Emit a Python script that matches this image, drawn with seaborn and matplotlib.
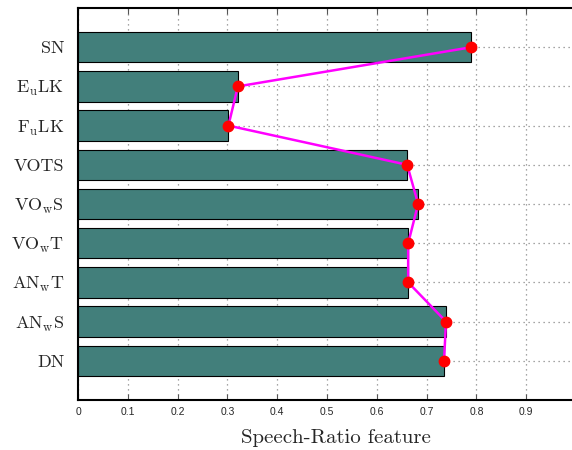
import matplotlib
matplotlib.use("Agg")
import matplotlib.pyplot as plt
import seaborn as sns
import pandas as pd

# Feature sets and their speech-ratio scores
labels = ["SN", r"E$_{\mathrm{u}}$LK", r"F$_{\mathrm{u}}$LK", "VOTS",
          r"VO$_{\mathrm{w}}$S", r"VO$_{\mathrm{w}}$T", r"AN$_{\mathrm{w}}$T",
          r"AN$_{\mathrm{w}}$S", "DN"]
scores = [0.790, 0.321, 0.302, 0.661, 0.683, 0.663, 0.663, 0.739, 0.735]
xticks = [0, 0.1, 0.2, 0.3, 0.4, 0.5, 0.6, 0.7, 0.8, 0.9]
xticklabels = ["0", "0.1", "0.2", "0.3", "0.4", "0.5", "0.6", "0.7", "0.8", "0.9"]

sns.set_style("white")
plt.rcParams["mathtext.fontset"] = "cm"
plt.rcParams["axes.formatter.use_mathtext"] = True

df = pd.DataFrame({"feature": labels, "score": scores})

fig = plt.figure(figsize=(5.72, 4.5), dpi=100)
ax = fig.add_axes([78 / 572, 1 - 400 / 450, 498 / 572, 392 / 450])

sns.barplot(data=df, x="score", y="feature", orient="h", color="#427F7B",
            saturation=1, width=0.78, edgecolor="black", linewidth=0.8,
            ax=ax, zorder=2)

pos = list(range(len(labels)))
ax.plot(scores, pos, color="#FF00FF", linewidth=1.8, zorder=3)
ax.plot(scores, pos, linestyle="none", marker="o", markersize=7.5,
        color="#FF0000", zorder=4)

ax.set_xlim(0, 1.0)
ax.set_ylim(len(labels), -1)
ax.set_xticks(xticks)
ax.set_xticklabels(xticklabels, fontfamily="Liberation Sans", fontsize=7.5)
ax.set_yticks(pos)
ax.set_yticklabels(labels, fontfamily="cmr10", fontsize=13)

ax.grid(True, axis="both", linestyle=(0, (1, 3)), color="#888888",
        linewidth=0.9, zorder=0)
ax.set_axisbelow(True)

ax.tick_params(axis="x", direction="in", length=4, width=0.8, top=True,
               bottom=True, color="#555555", pad=5)
ax.tick_params(axis="y", length=0, pad=10)

for side in ["left", "bottom", "top"]:
    ax.spines[side].set_visible(True)
    ax.spines[side].set_color("black")
    ax.spines[side].set_linewidth(1.5)
ax.spines["right"].set_visible(False)

ax.set_ylabel("")
ax.set_xlabel("Speech-Ratio feature", fontfamily="cmr10", fontsize=15)
ax.xaxis.set_label_coords(0.518, -0.075)

fig.savefig("out.png", dpi=100)
